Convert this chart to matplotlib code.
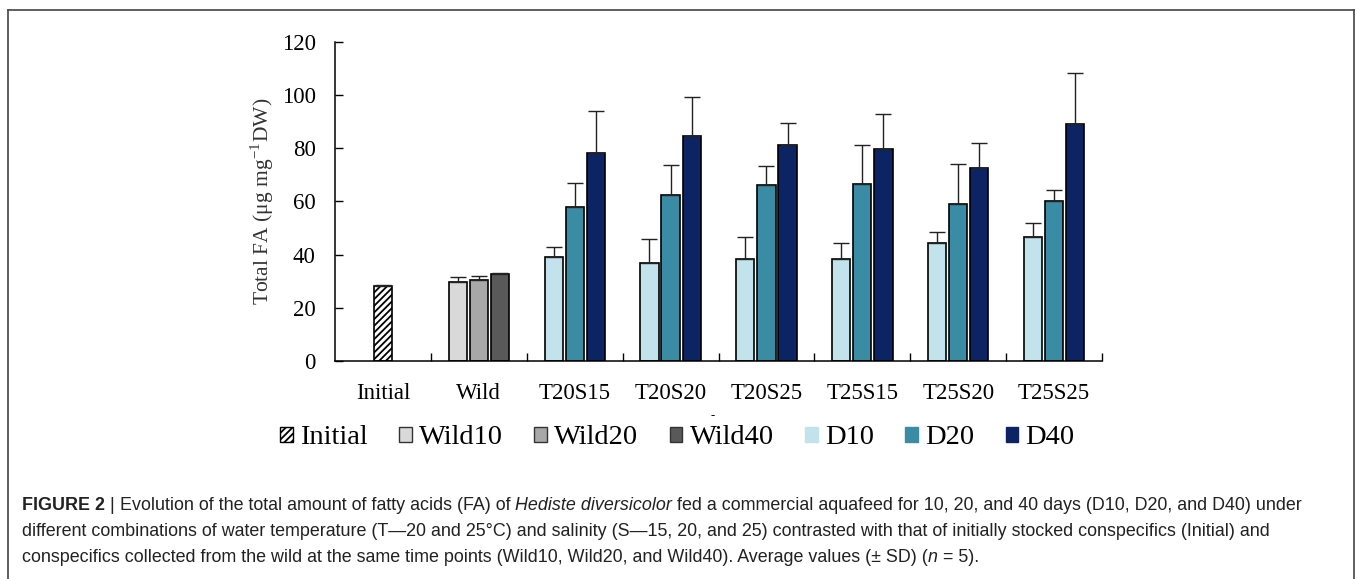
import numpy as np
import matplotlib
matplotlib.use('Agg')
from matplotlib import pyplot as plt
from matplotlib.lines import Line2D
from matplotlib.patches import Patch
from matplotlib import font_manager

groups = ['Initial', 'Wild', 'T20S15', 'T20S20', 'T20S25', 'T25S15', 'T25S20', 'T25S25']

initial_val = [28.2]
initial_err = [0.4]

wild_names = ['Wild10', 'Wild20', 'Wild40']
wild_val = [29.7, 30.4, 32.8]
wild_err = [1.8, 1.6, 0.4]

d_names = ['D10', 'D20', 'D40']
d10_val = [39.0, 37.0, 38.5, 38.5, 44.2, 46.7]
d10_err = [4.0, 8.7, 8.1, 5.7, 4.2, 5.3]
d20_val = [58.0, 62.2, 66.2, 66.7, 59.1, 60.1]
d20_err = [8.8, 11.3, 6.9, 14.5, 15.0, 4.0]
d40_val = [78.3, 84.7, 81.2, 79.7, 72.5, 88.9]
d40_err = [15.6, 14.4, 8.3, 13.3, 9.6, 19.2]

wild_cols = ['#d9d9d9', '#a8a8a8', '#595959']
d_cols = ['#c3e3ec', '#3a8ca4', '#0c2463']

serif = ['Liberation Serif', 'DejaVu Serif']
names = [f.name for f in font_manager.fontManager.ttflist]
capfont = 'Liberation Sans Narrow' if 'Liberation Sans Narrow' in names else 'Liberation Sans'

plt.rcParams['font.family'] = serif
plt.rcParams['mathtext.fontset'] = 'stix'
plt.rcParams['hatch.linewidth'] = 1.3

fig = plt.figure(figsize=(13.58, 5.79), dpi=100)
ax = fig.add_axes([0.2467, 0.3765, 0.5648, 0.5515])

bw = 0.19
step = 0.22
ekw = dict(elinewidth=1.0, capthick=1.0, ecolor='#222222')

ax.bar([0], initial_val, bw, yerr=[[0], initial_err], capsize=5.5, color='white',
       edgecolor='black', hatch='/////', linewidth=1.2, error_kw=ekw)

for i in range(3):
    ax.bar([1 + (i - 1) * step], [wild_val[i]], bw, yerr=[[0], [wild_err[i]]], capsize=5.5,
           color=wild_cols[i], edgecolor='black', linewidth=1.2, error_kw=ekw)

xs = np.arange(2, 8)
for i, (v, e) in enumerate([(d10_val, d10_err), (d20_val, d20_err), (d40_val, d40_err)]):
    ax.bar(xs + (i - 1) * step, v, bw, yerr=[np.zeros(len(e)), e], capsize=5.5,
           color=d_cols[i], edgecolor='black', linewidth=1.2, error_kw=ekw)

ax.set_xlim(-0.5, 7.5)
ax.set_ylim(0, 120)
ax.set_yticks(np.arange(0, 121, 20))
ax.set_xticks(np.arange(len(groups)))
ax.set_xticklabels(groups)
ax.set_xticks(np.arange(0.5, 7.6, 1), minor=True)
ax.tick_params(axis='x', which='major', length=0, pad=16, labelsize=16.5)
ax.tick_params(axis='x', which='minor', direction='in', length=6, width=1)
ax.tick_params(axis='y', direction='in', length=6, width=1, pad=14, labelsize=16.5)
ax.spines['top'].set_visible(False)
ax.spines['right'].set_visible(False)
for s in ['left', 'bottom']:
    ax.spines[s].set_linewidth(1.1)
ax.set_ylabel('Total FA (μg mg$^{\\mathregular{-1}}$DW)', fontsize=15.5, color='#333333', labelpad=4)

fig.text(713 / 1358, 1 - 416 / 579, '-', fontsize=9, ha='center', va='center')

handles = [Patch(facecolor='white', edgecolor='black', hatch='/////', label='Initial')]
for n, c in zip(wild_names, wild_cols):
    handles.append(Patch(facecolor=c, edgecolor='#333333', label=n))
for n, c in zip(d_names, d_cols):
    handles.append(Patch(facecolor=c, edgecolor=c, label=n))
fig.legend(handles=handles, loc='center', bbox_to_anchor=(0.4988, 1 - 438 / 579), ncol=7,
           frameon=False, fontsize=20.5, handlelength=0.45, handleheight=0.45,
           handletextpad=0.25, columnspacing=1.1)

# outer frame
fc = '#444444'
fig.add_artist(Line2D([8 / 1358, 8 / 1358], [0, 1 - 10 / 579], color=fc, lw=1.2))
fig.add_artist(Line2D([1354 / 1358, 1354 / 1358], [0, 1 - 10 / 579], color=fc, lw=1.2))
fig.add_artist(Line2D([8 / 1358, 1354 / 1358], [1 - 10 / 579, 1 - 10 / 579], color=fc, lw=1.2))

# caption
cap_lines = [
    [('FIGURE 2 ', 'bold', 'normal'), ('| ', 'normal', 'normal'),
     ('Evolution of the total amount of fatty acids (FA) of ', 'normal', 'normal'),
     ('Hediste diversicolor', 'normal', 'italic'),
     (' fed a commercial aquafeed for 10, 20, and 40 days (D10, D20, and D40) under', 'normal', 'normal')],
    [('different combinations of water temperature (T\u201420 and 25\u00b0C) and salinity (S\u201415, 20, and 25) '
      'contrasted with that of initially stocked conspecifics (Initial) and', 'normal', 'normal')],
    [('conspecifics collected from the wild at the same time points (Wild10, Wild20, and Wild40). '
      'Average values (\u00b1 SD) (', 'normal', 'normal'), ('n', 'normal', 'italic'), (' = 5).', 'normal', 'normal')],
]
line_y = [505, 532, 558]
for parts, yy in zip(cap_lines, line_y):
    prev = None
    for txt, w, st in parts:
        kw = dict(fontsize=12.85, family=[capfont, 'DejaVu Sans'], weight=w, style=st, color='#222222')
        if prev is None:
            prev = fig.text(22 / 1358, 1 - yy / 579, txt, ha='left', va='center', **kw)
        else:
            prev = fig.add_artist(plt.Annotation(txt, xy=(1, 0), xycoords=prev, ha='left', va='bottom', **kw))

fig.savefig('out.png', dpi=100)
